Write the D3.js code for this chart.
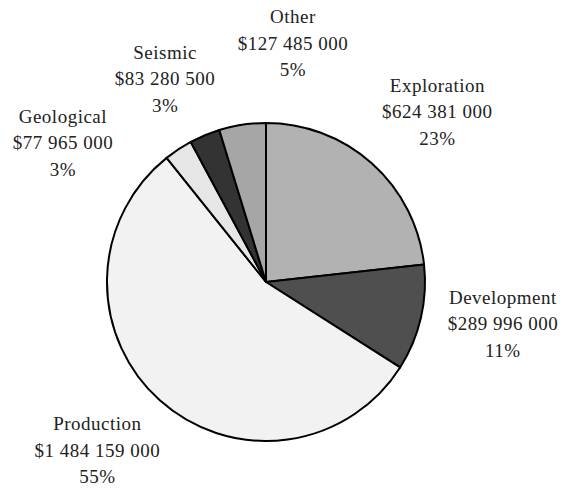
<!doctype html>
<html>
<head>
<style>
  body { margin: 0; background: #fff; }
  .lbl { font-family: "Liberation Serif", "Times New Roman", serif; font-size: 19px; letter-spacing: 0.5px; fill: #222; }
</style>
<script src="https://cdn.jsdelivr.net/npm/d3@7"></script>
</head>
<body>
<svg width="564" height="490"></svg>
<script>
var categories = ["Exploration", "Development", "Production", "Geological", "Seismic", "Other"];
var amounts = [624381000, 289996000, 1484159000, 77965000, 83280500, 127485000];
var amountLabels = ["$624 381 000", "$289 996 000", "$1 484 159 000", "$77 965 000", "$83 280 500", "$127 485 000"];
var percentLabels = ["23%", "11%", "55%", "3%", "3%", "5%"];
var fills = ["#b2b2b2", "#4f4f4f", "#f2f2f2", "#e6e6e6", "#333333", "#a6a6a6"];

var svg = d3.select("svg"),
    cx = 266, cy = 282, radius = 159, labelRadius = 236;

// hand nudges off the label ring, so the crowded labels sit like the original
var nudge = {"Exploration": [14, 12], "Development": [7, -5], "Production": [-11, -1],
             "Geological": [-73, 64], "Seismic": [-10, 21], "Other": [62, 1]};

var data = categories.map(function(c, i) {
    return {name: c, value: amounts[i], amt: amountLabels[i], pct: percentLabels[i], fill: fills[i]};
});

var pie = d3.pie().sort(null).value(function(d) { return d.value; });
var arc = d3.arc().innerRadius(0).outerRadius(radius);
var labelArc = d3.arc().innerRadius(labelRadius).outerRadius(labelRadius);

var g = svg.append("g").attr("transform", "translate(" + cx + "," + cy + ")");

g.selectAll("path")
  .data(pie(data))
  .enter().append("path")
  .attr("d", arc)
  .attr("fill", function(d) { return d.data.fill; })
  .attr("stroke", "#000")
  .attr("stroke-width", 2)
  .attr("stroke-linejoin", "round");

var lab = g.selectAll(".lbl")
  .data(pie(data))
  .enter().append("text")
  .attr("class", "lbl")
  .attr("text-anchor", "middle")
  .attr("transform", function(d) {
      var c = labelArc.centroid(d), n = nudge[d.data.name] || [0, 0];
      return "translate(" + (c[0] + n[0]) + "," + (c[1] + n[1]) + ")";
  });

lab.append("tspan").attr("x", 0).attr("y", -26.5).text(function(d) { return d.data.name; });
lab.append("tspan").attr("x", 0).attr("y", 0).text(function(d) { return d.data.amt; });
lab.append("tspan").attr("x", 0).attr("y", 26.5).text(function(d) { return d.data.pct; });
</script>
</body>
</html>
